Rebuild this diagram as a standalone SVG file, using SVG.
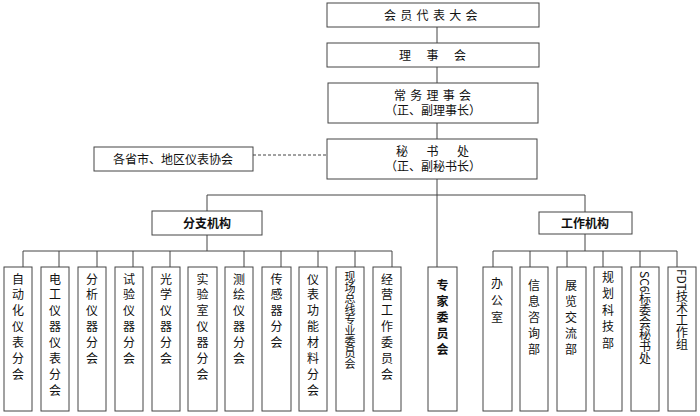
<svg xmlns="http://www.w3.org/2000/svg" width="700" height="416" viewBox="0 0 700 416">
<style>
.box{fill:#fff;stroke:#444;stroke-width:1}
.ln{stroke:#444;stroke-width:1;fill:none}
.dash{stroke:#444;stroke-width:1;fill:none;stroke-dasharray:3 2}
text{font-family:"Noto Sans CJK SC","Noto Sans",sans-serif;font-size:12px;fill:#111}
text.two{font-family:"Liberation Sans","Noto Sans CJK SC",sans-serif}
.b{font-weight:bold}
.v{writing-mode:vertical-rl;letter-spacing:3.9px}
</style>
<rect x="0" y="0" width="700" height="416" fill="#fff"/>
<g id="connectors">
<line class="ln" x1="437" y1="27" x2="437" y2="43"/>
<line class="ln" x1="437" y1="67" x2="437" y2="83"/>
<line class="ln" x1="437" y1="123" x2="437" y2="139"/>
<line class="ln" x1="437" y1="179" x2="437" y2="267"/>
<line class="dash" x1="253" y1="155" x2="327" y2="155"/>
<polyline class="ln" points="207,211 207,195 585,195 585,212"/>
<line class="ln" x1="207" y1="235" x2="207" y2="251"/>
<line class="ln" x1="23" y1="251" x2="392" y2="251"/>
<line class="ln" x1="23" y1="251" x2="23" y2="267"/>
<line class="ln" x1="59" y1="251" x2="59" y2="267"/>
<line class="ln" x1="97" y1="251" x2="97" y2="267"/>
<line class="ln" x1="133" y1="251" x2="133" y2="267"/>
<line class="ln" x1="170" y1="251" x2="170" y2="267"/>
<line class="ln" x1="244" y1="251" x2="244" y2="267"/>
<line class="ln" x1="281" y1="251" x2="281" y2="267"/>
<line class="ln" x1="318" y1="251" x2="318" y2="267"/>
<line class="ln" x1="355" y1="251" x2="355" y2="267"/>
<line class="ln" x1="392" y1="251" x2="392" y2="267"/>
<line class="ln" x1="585" y1="234" x2="585" y2="251"/>
<line class="ln" x1="493" y1="251" x2="677" y2="251"/>
<line class="ln" x1="493" y1="251" x2="493" y2="267"/>
<line class="ln" x1="530" y1="251" x2="530" y2="267"/>
<line class="ln" x1="567" y1="251" x2="567" y2="267"/>
<line class="ln" x1="603" y1="251" x2="603" y2="267"/>
<line class="ln" x1="640" y1="251" x2="640" y2="267"/>
<line class="ln" x1="677" y1="251" x2="677" y2="267"/>
</g>
<g id="n-dahui"><rect class="box" x="327" y="3" width="212" height="24"/><text x="384" y="19.5" style="letter-spacing:4.3px">会员代表大会</text></g>
<g id="n-lishihui"><rect class="box" x="327" y="43" width="212" height="24"/><text x="399" y="59.5" style="letter-spacing:15.5px">理事会</text></g>
<g id="n-changwu"><rect class="box" x="328" y="83" width="210" height="40"/><text class="two" x="394" y="100"><tspan style="letter-spacing:4.25px">常务理事会</tspan><tspan x="433" dy="15" text-anchor="middle">（正、副理事长）</tspan></text></g>
<g id="n-mishu"><rect class="box" x="327" y="139" width="210" height="40"/><text class="two" x="396" y="156"><tspan style="letter-spacing:18.5px">秘书处</tspan><tspan x="433" dy="15" text-anchor="middle">（正、副秘书长）</tspan></text></g>
<g id="n-xiehui"><rect class="box" x="94" y="147" width="159" height="24"/><text x="173" y="163.5" text-anchor="middle">各省市、地区仪表协会</text></g>
<g id="n-fenzhi"><rect class="box" x="152" y="211" width="110" height="24"/><text class="b" x="207" y="227.5" text-anchor="middle">分支机构</text></g>
<g id="n-gongzuo"><rect class="box" x="539" y="212" width="93" height="22"/><text class="b" x="585" y="227.5" text-anchor="middle">工作机构</text></g>
<g id="n-b1"><rect class="box" x="4" y="267" width="28" height="144"/><text class="v" x="18" y="273">自动化仪表分会</text></g>
<g id="n-b2"><rect class="box" x="41" y="267" width="28" height="144"/><text class="v" x="55" y="273">电工仪器仪表分会</text></g>
<g id="n-b3"><rect class="box" x="78" y="267" width="28" height="144"/><text class="v" x="92" y="273">分析仪器分会</text></g>
<g id="n-b4"><rect class="box" x="115" y="267" width="28" height="144"/><text class="v" x="129" y="273">试验仪器分会</text></g>
<g id="n-b5"><rect class="box" x="152" y="267" width="28" height="144"/><text class="v" x="166" y="273">光学仪器分会</text></g>
<g id="n-b6"><rect class="box" x="188" y="267" width="29" height="144"/><text class="v" x="202.5" y="273">实验室仪器分会</text></g>
<g id="n-b7"><rect class="box" x="225" y="267" width="28" height="144"/><text class="v" x="239" y="273">测绘仪器分会</text></g>
<g id="n-b8"><rect class="box" x="262" y="267" width="29" height="144"/><text class="v" x="276.5" y="273">传感器分会</text></g>
<g id="n-b9"><rect class="box" x="299" y="267" width="28" height="144"/><text class="v" x="313" y="273">仪表功能材料分会</text></g>
<g id="n-b10"><rect class="box" x="336" y="267" width="28" height="144"/><text class="v" x="350" y="271.5" style="font-size:11px;letter-spacing:-0.2px">现场总线专业委员会</text></g>
<g id="n-b11"><rect class="box" x="373" y="267" width="28" height="144"/><text class="v" x="387" y="273">经营工作委员会</text></g>
<g id="n-zhuanjia"><rect class="box" x="428" y="267" width="29" height="144"/><text class="v b" x="442.5" y="279" style="letter-spacing:4px">专家委员会</text></g>
<g id="n-w1"><rect class="box" x="483" y="267" width="29" height="144"/><text class="v" x="497" y="277" style="letter-spacing:5px">办公室</text></g>
<g id="n-w2"><rect class="box" x="520" y="267" width="28" height="144"/><text class="v" x="534" y="279" style="letter-spacing:4px">信息咨询部</text></g>
<g id="n-w3"><rect class="box" x="557" y="267" width="29" height="144"/><text class="v" x="571" y="279" style="letter-spacing:4px">展览交流部</text></g>
<g id="n-w4"><rect class="box" x="594" y="267" width="28" height="144"/><text class="v" x="608" y="271" style="letter-spacing:4.5px">规划科技部</text></g>
<g id="n-w5"><rect class="box" x="631" y="267" width="28" height="144"/><text class="v" x="645" y="271" style="letter-spacing:0px">SC6标委会秘书处</text></g>
<g id="n-w6"><rect class="box" x="668" y="267" width="28" height="144"/><text class="v" x="682" y="269" style="letter-spacing:0px">FDT技术工作组</text></g>
</svg>
